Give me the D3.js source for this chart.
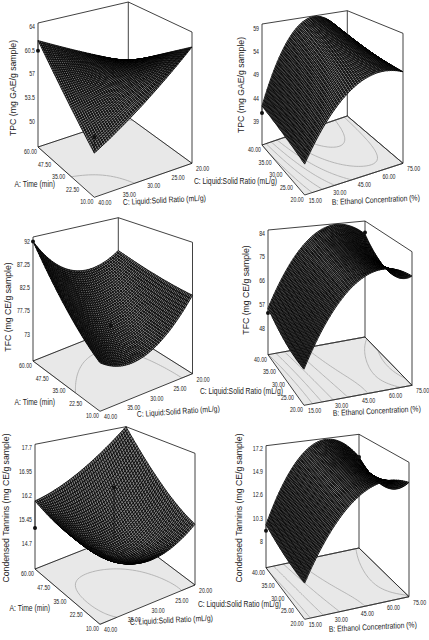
<!DOCTYPE html>
<html lang="en">
<head>
<meta charset="utf-8">
<title>Response surfaces: TPC, TFC, condensed tannins</title>
<script src="https://cdnjs.cloudflare.com/ajax/libs/d3/7.8.5/d3.min.js"></script>
<style>
  body { margin: 0; background: #fff; }
  svg { display: block; background: #fff; font-family: "Liberation Sans", Arial, sans-serif; }
  .tick { font-size: 6.4px; fill: #222; }
  .title { font-size: 8.3px; fill: #222; }
  .ztitle { font-size: 8.7px; fill: #222; }
</style>
</head>
<body>
<svg id="chart" width="429" height="640"></svg>
<script>
// factor tick labels
var timeTicks = ["10.00", "22.50", "35.00", "47.50", "60.00"];
var ratioTicks = ["20.00", "25.00", "30.00", "35.00", "40.00"];
var ethanolTicks = ["15.00", "30.00", "45.00", "60.00", "75.00"];

// response axis ticks
var tpcTicksA = [50, 53.5, 57, 60.5, 64];
var tpcTicksB = [39, 44, 49, 54, 59];
var tfcTicksA = [73, 77.75, 82.5, 87.25, 92];
var tfcTicksB = [48, 57, 66, 75, 84];
var ctTicksA = [14.7, 15.45, 16.2, 16.95, 17.7];
var ctTicksB = [8, 10.3, 12.6, 14.9, 17.2];

// fitted response at coded levels -1, 0, 1
// rows = first factor (Time or Ratio), cols = second factor (Ratio or Ethanol)
var tpcTimeRatio = [[62.5, 56.5, 52], [59, 57.5, 56.5], [55, 58.5, 62]];
var tpcRatioEthanol = [[39.5, 51.3, 52.3], [41, 55.5, 52.5], [42.4, 59.3, 52.7]];
var tfcTimeRatio = [[82.7, 74.5, 76], [83.5, 77, 82], [85.3, 83.5, 92]];
var tfcRatioEthanol = [[50, 77, 76.7], [51, 79, 72], [55.7, 82.5, 80]];
var ctTimeRatio = [[15.7, 15.1, 15.8], [16.4, 15.1, 15.7], [17.8, 16.6, 16.03]];
var ctRatioEthanol = [[8.5, 15.0, 15.7], [8.8, 15.8, 13.8], [9.7, 17.0, 15.1]];

// design points [first factor coded, second factor coded, observed]
var tpcTimeRatioPts = [[1, 1, 60.5], [-1, 1, 54.1], [0, 0, 58.9]];
var tpcRatioEthanolPts = [[1, -1, 40.9]];
var tfcTimeRatioPts = [[1, 1, 92], [0, 0, 76]];
var tfcRatioEthanolPts = [[1, -1, 53.8], [1, 1, 80.6]];
var ctTimeRatioPts = [[1, 1, 15.18], [0, 0, 16.65]];
var ctRatioEthanolPts = [[1, -1, 9.1], [1, 1, 15.1]];

// floor contour levels
var tpcLevelsA = [55.6];
var tpcLevelsB = [42, 45, 48, 51, 54, 57];
var tfcLevelsA = [80];
var tfcLevelsB = [56, 62, 68, 74, 79];
var ctLevelsA = [15.4];
var ctLevelsB = [9.5, 11.5, 13.5, 15.5];

var ratioTitle = "C: Liquid:Solid Ratio (mL/g)";
var timeTitle = "A: Time (min)";
var ethanolTitle = "B: Ethanol Concentration (%)";

// box layout for each panel: floor corners front/left/right/back and vertical heights
var panels = [
  { grid: tpcTimeRatio, pts: tpcTimeRatioPts, zTicks: tpcTicksA, zDomain: [46.2, 64.6], levels: tpcLevelsA,
    leftTicks: timeTicks, rightTicks: ratioTicks.slice().reverse(), leftFlip: false, rightFlip: true,
    F: [94.3, 197.3], L: [38, 147], R: [192, 163.3], B: [128.3, 117], h: [140.3, 124, 131.3, 115],
    zTitle: "TPC (mg GAE/g sample)", zt: [13, 88],
    leftTitle: timeTitle, lt: [55, 187, 0], rightTitle: ratioTitle, rt: [123, 205, -3] },
  { grid: tpcRatioEthanol, pts: tpcRatioEthanolPts, zTicks: tpcTicksB, zDomain: [34, 60], levels: tpcLevelsB,
    leftTicks: ratioTicks, rightTicks: ethanolTicks, leftFlip: false, rightFlip: false,
    F: [304.7, 195], L: [262, 145], R: [403, 163.3], B: [347.3, 116], h: [146, 121, 130, 105.3],
    zTitle: "TPC (mg GAE/g sample)", zt: [240.7, 85],
    leftTitle: ratioTitle, lt: [277, 184, 0], rightTitle: ethanolTitle, rt: [332, 205, -3] },
  { grid: tfcTimeRatio, pts: tfcTimeRatioPts, zTicks: tfcTicksA, zDomain: [67.6, 92.9], levels: tfcLevelsA,
    leftTicks: timeTicks, rightTicks: ratioTicks.slice().reverse(), leftFlip: false, rightFlip: true,
    F: [100, 411.3], L: [33, 361], R: [192.5, 373.7], B: [118.3, 327], h: [146, 124, 131.4, 109.3],
    zTitle: "TFC (mg CE/g sample)", zt: [8.3, 307],
    leftTitle: timeTitle, lt: [55, 405, 0], rightTitle: ratioTitle, rt: [137, 417, -4] },
  { grid: tfcRatioEthanol, pts: tfcRatioEthanolPts, zTicks: tfcTicksB, zDomain: [38, 85.3], levels: tfcLevelsB,
    leftTicks: ratioTicks, rightTicks: ethanolTicks, leftFlip: false, rightFlip: false,
    F: [304, 405.3], L: [268, 354.7], R: [412, 385.3], B: [365, 337], h: [142.3, 124.7, 133.6, 116],
    zTitle: "TFC (mg CE/g sample)", zt: [245.7, 290],
    leftTitle: ratioTitle, lt: [283, 394, 0], rightTitle: ethanolTitle, rt: [333, 416, -3] },
  { grid: ctTimeRatio, pts: ctTimeRatioPts, zTicks: ctTicksA, zDomain: [13.9, 17.8], levels: ctLevelsA,
    leftTicks: timeTicks, rightTicks: ratioTicks.slice().reverse(), leftFlip: false, rightFlip: true,
    F: [100, 624.3], L: [35, 569], R: [195, 585], B: [126, 533], h: [150, 124.7, 131.7, 106.3],
    zTitle: "Condensed Tannins (mg CE/g sample)", zt: [6, 508],
    leftTitle: timeTitle, lt: [50, 611, 0], rightTitle: ratioTitle, rt: [130, 625, -3] },
  { grid: ctRatioEthanol, pts: ctRatioEthanolPts, zTicks: ctTicksB, zDomain: [5.44, 17.5], levels: ctLevelsB,
    leftTicks: ratioTicks, rightTicks: ethanolTicks, leftFlip: false, rightFlip: false,
    F: [304.7, 619.3], L: [266, 567.7], R: [409, 596.7], B: [359, 548], h: [142.7, 122, 134.4, 113.7],
    zTitle: "Condensed Tannins (mg CE/g sample)", zt: [239, 508],
    leftTitle: ratioTitle, lt: [281, 607, 0], rightTitle: ethanolTitle, rt: [329, 632, -3] }
];

var N = 50;
var svg = d3.select("#chart");

// quadratic (Lagrange) basis on coded levels -1, 0, 1
function basis(x) { return [x * (x - 1) / 2, 1 - x * x, x * (x + 1) / 2]; }

function surfaceValue(p, s, t) {
  var a = p.leftFlip ? 1 - 2 * s : 2 * s - 1;
  var b = p.rightFlip ? 1 - 2 * t : 2 * t - 1;
  var la = basis(a), lb = basis(b), z = 0;
  for (var i = 0; i < 3; i++)
    for (var j = 0; j < 3; j++) z += p.grid[i][j] * la[i] * lb[j];
  return z;
}

function bilerp(a, b, c, d, s, t) {
  // a = front, b = left (s=1), c = right (t=1), d = back
  return a * (1 - s) * (1 - t) + b * s * (1 - t) + c * (1 - s) * t + d * s * t;
}

function floorPt(p, s, t) {
  return [bilerp(p.F[0], p.L[0], p.R[0], p.B[0], s, t),
          bilerp(p.F[1], p.L[1], p.R[1], p.B[1], s, t)];
}

function project(p, s, t, z) {
  var f = floorPt(p, s, t);
  var hh = bilerp(p.h[0], p.h[1], p.h[2], p.h[3], s, t);
  return [f[0], f[1] - p.zScale(z) * hh];
}

function hText(g, x, y, rot, anchor, cls, str) {
  g.append("text")
    .attr("class", cls)
    .attr("text-anchor", anchor)
    .attr("transform", "translate(" + x + "," + y + ") rotate(" + rot + ") scale(0.82,1)")
    .text(str);
}

panels.forEach(function(p) {
  var g = svg.append("g");
  p.zScale = d3.scaleLinear().domain(p.zDomain).range([0, 1]);

  var TL = [p.L[0], p.L[1] - p.h[1]];
  var TR = [p.R[0], p.R[1] - p.h[2]];
  var TB = [p.B[0], p.B[1] - p.h[3]];

  // floor
  g.append("path")
    .attr("d", "M" + p.F + "L" + p.L + "L" + p.B + "L" + p.R + "Z")
    .attr("fill", "#e8e8e8")
    .attr("stroke", "none");

  // floor contours
  var n = 41, values = [];
  for (var j = 0; j < n; j++)
    for (var i = 0; i < n; i++) values.push(surfaceValue(p, i / (n - 1), j / (n - 1)));
  var contours = d3.contours().size([n, n]).thresholds(p.levels)(values);
  var toFloor = function(c) {
    var s = Math.max(0, Math.min(1, (c[0] - 0.5) / (n - 1)));
    var t = Math.max(0, Math.min(1, (c[1] - 0.5) / (n - 1)));
    return floorPt(p, s, t);
  };
  contours.forEach(function(c) {
    c.coordinates.forEach(function(poly) {
      poly.forEach(function(ring) {
        g.append("path")
          .attr("d", d3.line()(ring.map(toFloor)))
          .attr("fill", "none")
          .attr("stroke", "#a8a8a8")
          .attr("stroke-width", 0.8);
      });
    });
  });

  // floor border + box frame
  g.append("path")
    .attr("d", "M" + p.F + "L" + p.L + "L" + p.B + "L" + p.R + "Z")
    .attr("fill", "none")
    .attr("stroke", "#111")
    .attr("stroke-width", 0.8);
  g.append("path")
    .attr("d", "M" + p.L + "L" + TL + "L" + TB + "L" + TR + "L" + p.R + "M" + p.B + "L" + TB)
    .attr("fill", "none")
    .attr("stroke", "#111")
    .attr("stroke-width", 0.8);

  // surface mesh, drawn back to front
  var quads = [];
  for (var a = 0; a < N; a++) {
    for (var b = 0; b < N; b++) {
      var s0 = a / N, s1 = (a + 1) / N, t0 = b / N, t1 = (b + 1) / N;
      var corners = [[s0, t0], [s1, t0], [s1, t1], [s0, t1]].map(function(c) {
        return project(p, c[0], c[1], surfaceValue(p, c[0], c[1]));
      });
      quads.push({ pts: corners, depth: floorPt(p, (s0 + s1) / 2, (t0 + t1) / 2)[1] });
    }
  }
  quads.sort(function(u, v) { return u.depth - v.depth; });
  g.append("g").selectAll("path")
    .data(quads)
    .enter()
    .append("path")
    .attr("d", function(d) { return "M" + d.pts.join("L") + "Z"; })
    .attr("fill", "#7e7e7e")
    .attr("stroke", "#000")
    .attr("stroke-width", 0.8)
    .attr("stroke-linejoin", "round");

  // design points with drop lines to the surface
  p.pts.forEach(function(d) {
    var s = p.leftFlip ? (1 - d[0]) / 2 : (d[0] + 1) / 2;
    var t = p.rightFlip ? (1 - d[1]) / 2 : (d[1] + 1) / 2;
    var top = project(p, s, t, d[2]);
    var bot = project(p, s, t, surfaceValue(p, s, t));
    g.append("line")
      .attr("x1", top[0]).attr("y1", top[1])
      .attr("x2", bot[0]).attr("y2", bot[1])
      .attr("stroke", "#111").attr("stroke-width", 0.7);
    g.append("circle")
      .attr("cx", top[0]).attr("cy", top[1])
      .attr("r", 2).attr("fill", "#111");
  });

  // response axis ticks on the left vertical
  p.zTicks.forEach(function(v) {
    var y = p.L[1] - p.zScale(v) * p.h[1];
    hText(g, p.L[0] - 3, y + 2.2, 0, "end", "tick", v);
  });

  // factor ticks along the two front floor edges
  p.leftTicks.forEach(function(lab, k) {
    var pt = floorPt(p, k / 4, 0);
    hText(g, pt[0] - 1, pt[1] + 7, 0, "end", "tick", lab);
  });
  p.rightTicks.forEach(function(lab, k) {
    var pt = floorPt(p, 0, k / 4);
    hText(g, pt[0] + 4, pt[1] + 8, 0, "start", "tick", lab);
  });

  // titles
  g.append("text")
    .attr("class", "ztitle")
    .attr("text-anchor", "middle")
    .attr("transform", "translate(" + p.zt[0] + "," + p.zt[1] + ") rotate(-90)")
    .attr("dy", "0.35em")
    .text(p.zTitle);
  hText(g, p.lt[0], p.lt[1], p.lt[2], "end", "title", p.leftTitle);
  hText(g, p.rt[0], p.rt[1], p.rt[2], "start", "title", p.rightTitle);
});
</script>
</body>
</html>
